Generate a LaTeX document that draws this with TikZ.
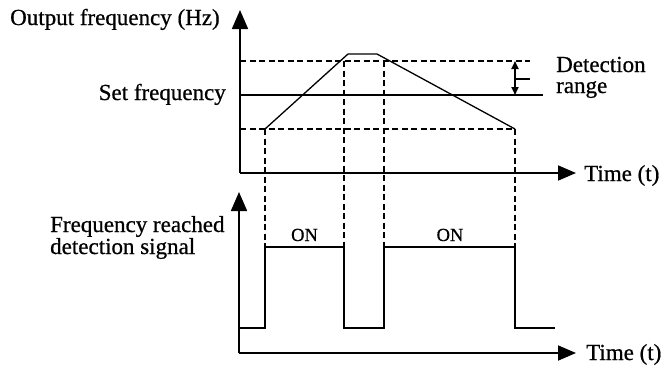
\documentclass[tikz,border=0pt]{standalone}
\usepackage{fontspec}
\setmainfont{Liberation Serif}[FakeBold=0.7]
\usetikzlibrary{arrows.meta}
\begin{document}
\begin{tikzpicture}[x=1pt,y=-1pt,
  axis/.style={line width=1.8pt},
  sig/.style={line width=1.3pt, line join=miter},
  guide/.style={line width=1.3pt, dash pattern=on 6pt off 3.5pt},
  lbl/.style={font=\fontsize{23}{27}\selectfont, inner sep=0pt},
  onlbl/.style={font=\fontsize{18.5}{22}\selectfont, inner sep=0pt},
  harrow/.style={-{Triangle[length=18pt,width=15pt]}},
  varrow/.style={-{Triangle[length=19pt,width=16pt]}},
  darrow/.style={{Triangle[length=8pt,width=7pt]}-{Triangle[length=8pt,width=7pt]}, line width=1.8pt}]
\useasboundingbox (0,0) rectangle (664,367);
% axes coordinates
\coordinate (o1) at (240,173);
\coordinate (y1) at (240,10);
\coordinate (x1) at (576,173);
\coordinate (o2) at (239,353);
\coordinate (y2) at (239,192);
\coordinate (x2) at (576,353);
% top plot points
\coordinate (hiL) at (240,61);  \coordinate (hiR) at (530,61);
\coordinate (setL) at (240,95); \coordinate (setR) at (543,95);
\coordinate (loL) at (240,129); \coordinate (loR) at (515,129);
\coordinate (r0) at (265,129);
\coordinate (r1) at (348,54);
\coordinate (r2) at (377,54);
\coordinate (r3) at (515,129);
\coordinate (t1) at (344,61);
\coordinate (t2) at (384,61);
\coordinate (dA) at (515,61);
\coordinate (dB) at (515,95);
\coordinate (tk0) at (515,79);
\coordinate (tk1) at (530,79);
% bottom signal points
\coordinate (s0) at (239,328);
\coordinate (s1) at (265,328);
\coordinate (s2) at (265,247);
\coordinate (s3) at (344,247);
\coordinate (s4) at (344,328);
\coordinate (s5) at (384,328);
\coordinate (s6) at (384,247);
\coordinate (s7) at (515,247);
\coordinate (s8) at (515,328);
\coordinate (s9) at (555,328);

% axes
\draw[axis,varrow] (o1) -- (y1);
\draw[axis,harrow] (o1) -- (x1);
\draw[axis,varrow] (o2) -- (y2);
\draw[axis,harrow] (o2) -- (x2);

% reference lines
\draw[guide] (hiL) -- (hiR);
\draw[sig] (setL) -- (setR);
\draw[guide] (loL) -- (loR);

% frequency curve
\draw[sig] (r0) -- (r1) -- (r2) -- (r3);

% vertical guides
\draw[guide] (r0) -- (s2);
\draw[guide] (t1) -- (s3);
\draw[guide] (t2) -- (s6);
\draw[guide] (r3) -- (s7);

% detection range
\draw[darrow] (dA) -- (dB);
\draw[sig] (tk0) -- (tk1);

% signal
\draw[sig] (s0) -- (s1) -- (s2) -- (s3) -- (s4) -- (s5) -- (s6) -- (s7) -- (s8) -- (s9);

% labels
\node[lbl, anchor=base west] (lout) at (10,25) {Output frequency (Hz)};
\node[lbl, anchor=base east] (lset) at (226,100) {Set frequency};
\node[lbl, anchor=base west] (ldet1) at (556,72) {Detection};
\node[lbl, anchor=base west] (ldet2) at (556,93) {range};
\node[lbl, anchor=base west] (lt1) at (584,181) {Time (t)};
\node[lbl, anchor=base west] (lt2) at (586,360) {Time (t)};
\node[lbl, anchor=base west] (lfr1) at (50,232) {Frequency reached};
\node[lbl, anchor=base west] (lfr2) at (50,254) {detection signal};
\node[onlbl, anchor=base] (on1) at (304.5,241) {ON};
\node[onlbl, anchor=base] (on2) at (450,241) {ON};
\end{tikzpicture}
\end{document}
